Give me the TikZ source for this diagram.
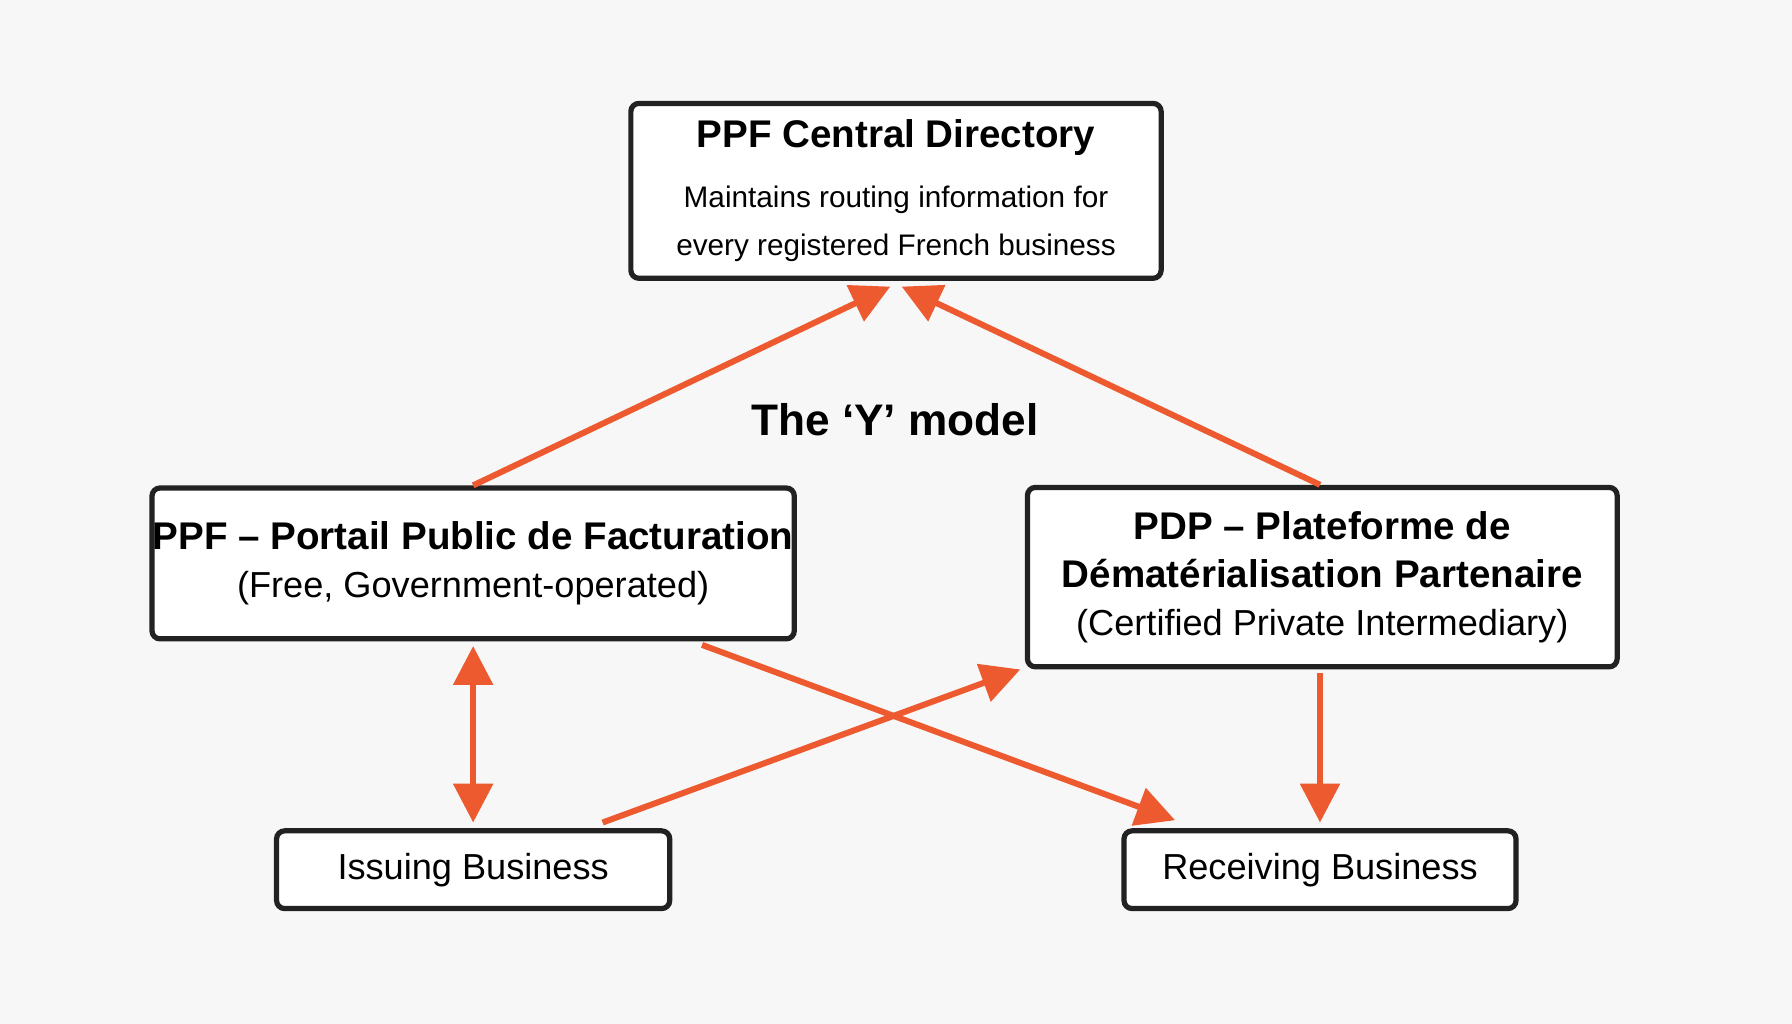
\documentclass[tikz,border=0pt]{standalone}
\usepackage{fontspec}
\setmainfont{Liberation Sans}
\usetikzlibrary{arrows.meta}
\definecolor{flow}{HTML}{EE5A2F}
\definecolor{ink}{HTML}{222222}
\newcommand\headfont{\fontsize{9.6}{12}\selectfont\bfseries}
\newcommand\subfont{\fontsize{9}{11}\selectfont\mdseries}
\newcommand\notefont{\fontsize{7.4}{9.5}\selectfont\mdseries}
\begin{document}
\begin{tikzpicture}[
    box/.style={shape=rectangle, draw=ink, fill=white, line width=1.3pt, rounded corners=2pt, align=center, inner sep=0pt},
    link/.style={draw=flow, line width=1.5pt, -{Triangle[length=0.34cm,width=0.34cm]}},
    both/.style={link, {Triangle[length=0.34cm,width=0.34cm]}-{Triangle[length=0.34cm,width=0.34cm]}},
  ]
    \fill[white!97!black] (0,0) rectangle (15.68,-8.96);

    \node[box, minimum width=4.64cm, minimum height=1.53cm] (central) at (7.84,-1.67)
      {\headfont PPF Central Directory\\[3pt]
       \notefont Maintains routing information for\\\notefont every registered French business};

    \node[box, minimum width=5.62cm, minimum height=1.32cm] (ppf) at (4.14,-4.93)
      {\headfont PPF -- Portail Public de Facturation\\
       \subfont (Free, Government-operated)};

    \node[box, minimum width=5.16cm, minimum height=1.57cm] (pdp) at (11.57,-5.05)
      {\headfont PDP -- Plateforme de\\\headfont Dématérialisation Partenaire\\
       \subfont (Certified Private Intermediary)};

    \node[box, minimum width=3.44cm, minimum height=0.68cm] (iss) at (4.14,-7.61)
      {\subfont Issuing Business};
    \node[box, minimum width=3.43cm, minimum height=0.68cm] (rec) at (11.55,-7.61)
      {\subfont Receiving Business};

    \node[font=\fontsize{11}{13}\selectfont\bfseries] (title) at (7.83,-3.67) {The ‘Y’ model};

    \draw[link] (ppf.north) -- ([xshift=-0.05cm,yshift=-0.05cm]central.south);
    \draw[link] ([xshift=-0.02cm]pdp.north) -- ([xshift=0.05cm,yshift=-0.05cm]central.south);
    \draw[both] ([yshift=-0.04cm]ppf.south) -- ([yshift=0.05cm]iss.north);
    \draw[link] ([xshift=-0.61cm,yshift=0.05cm]iss.north east) -- ([xshift=-0.04cm]pdp.south west);
    \draw[link] ([xshift=-0.83cm,yshift=-0.03cm]ppf.south east) -- ([xshift=0.47cm,yshift=0.07cm]rec.north west);
    \draw[link] ([xshift=-0.02cm,yshift=-0.03cm]pdp.south) -- ([yshift=0.05cm]rec.north);
\end{tikzpicture}
\end{document}
